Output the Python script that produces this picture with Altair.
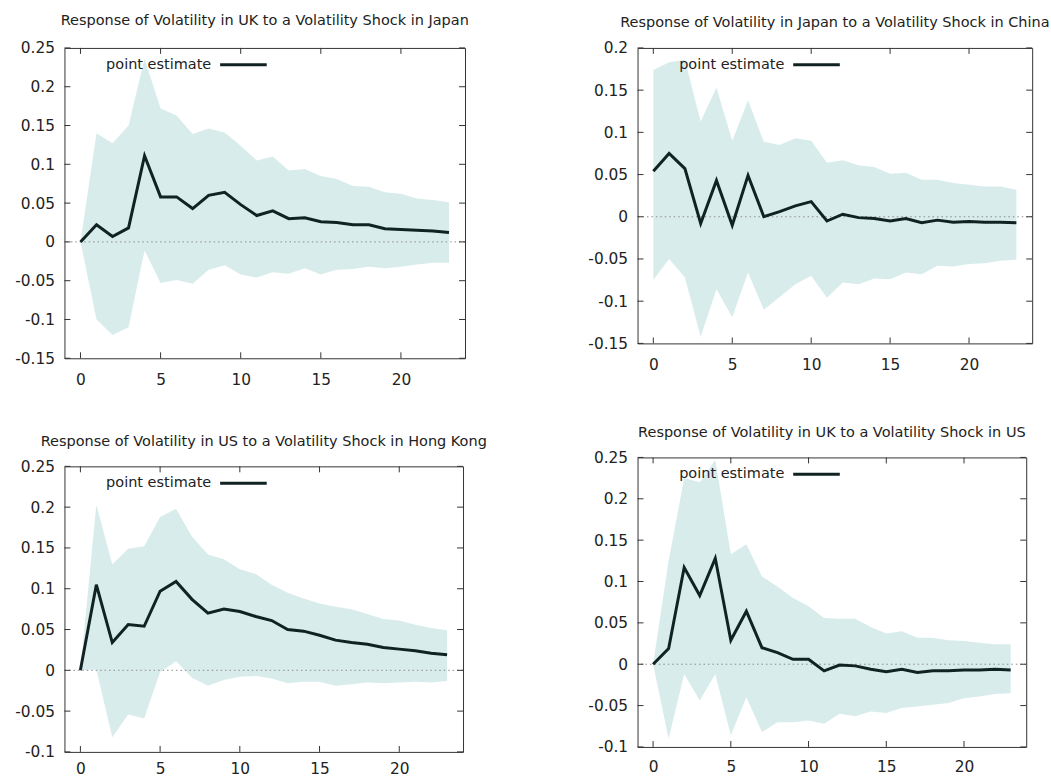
import altair as alt
import pandas as pd

# ---------------- data ----------------
HORIZON = list(range(24))
X_TICKS = [0, 5, 10, 15, 20]
LEGEND_LABEL = "point estimate"

TITLE_1 = "Response of Volatility in UK to a Volatility Shock in Japan"
EST_1 = [0, 0.022, 0.007, 0.018, 0.111, 0.058, 0.058, 0.043, 0.060, 0.064, 0.048, 0.034,
         0.040, 0.030, 0.031, 0.026, 0.025, 0.022, 0.022, 0.017, 0.016, 0.015, 0.014, 0.012]
HI_1 = [0, 0.140, 0.127, 0.150, 0.236, 0.172, 0.163, 0.139, 0.146, 0.141, 0.124, 0.105,
        0.110, 0.092, 0.094, 0.085, 0.081, 0.072, 0.071, 0.064, 0.062, 0.056, 0.054, 0.051]
LO_1 = [0, -0.100, -0.120, -0.110, -0.011, -0.053, -0.049, -0.054, -0.036, -0.030, -0.042, -0.046,
        -0.039, -0.041, -0.034, -0.042, -0.036, -0.035, -0.032, -0.034, -0.032, -0.029, -0.027, -0.027]
YDOM_1 = [-0.15, 0.25]
YTICKS_1 = [-0.15, -0.1, -0.05, 0, 0.05, 0.1, 0.15, 0.2, 0.25]

TITLE_2 = "Response of Volatility in Japan to a Volatility Shock in China"
EST_2 = [0.054, 0.075, 0.057, -0.008, 0.043, -0.010, 0.049, 0.000, 0.006, 0.013, 0.018, -0.005,
         0.003, -0.001, -0.002, -0.005, -0.002, -0.007, -0.004, -0.0065, -0.0056, -0.0065, -0.0065, -0.0072]
HI_2 = [0.174, 0.183, 0.186, 0.113, 0.153, 0.090, 0.138, 0.089, 0.085, 0.093, 0.090, 0.064,
        0.067, 0.061, 0.059, 0.051, 0.052, 0.044, 0.044, 0.040, 0.038, 0.036, 0.036, 0.032]
LO_2 = [-0.075, -0.050, -0.072, -0.142, -0.086, -0.119, -0.066, -0.110, -0.095, -0.080, -0.070, -0.096,
        -0.078, -0.080, -0.073, -0.074, -0.066, -0.068, -0.058, -0.059, -0.056, -0.055, -0.052, -0.051]
YDOM_2 = [-0.15, 0.2]
YTICKS_2 = [-0.15, -0.1, -0.05, 0, 0.05, 0.1, 0.15, 0.2]

TITLE_3 = "Response of Volatility in US to a Volatility Shock in Hong Kong"
EST_3 = [0, 0.105, 0.034, 0.056, 0.054, 0.097, 0.109, 0.087, 0.070, 0.075, 0.072, 0.066,
         0.061, 0.050, 0.048, 0.043, 0.037, 0.034, 0.032, 0.028, 0.026, 0.024, 0.021, 0.019]
HI_3 = [0, 0.203, 0.130, 0.149, 0.152, 0.188, 0.198, 0.164, 0.142, 0.136, 0.124, 0.118,
        0.105, 0.095, 0.088, 0.082, 0.078, 0.075, 0.069, 0.063, 0.061, 0.056, 0.052, 0.049]
LO_3 = [0, 0.001, -0.082, -0.054, -0.059, -0.002, 0.011, -0.009, -0.019, -0.012, -0.008, -0.007,
        -0.010, -0.016, -0.014, -0.014, -0.019, -0.017, -0.015, -0.016, -0.015, -0.014, -0.015, -0.013]
YDOM_3 = [-0.1, 0.25]
YTICKS_3 = [-0.1, -0.05, 0, 0.05, 0.1, 0.15, 0.2, 0.25]

TITLE_4 = "Response of Volatility in UK to a Volatility Shock in US"
EST_4 = [0, 0.019, 0.117, 0.083, 0.128, 0.029, 0.064, 0.020, 0.014, 0.006, 0.006, -0.008,
         -0.001, -0.002, -0.006, -0.009, -0.006, -0.010, -0.008, -0.008, -0.007, -0.007, -0.006, -0.007]
HI_4 = [0, 0.125, 0.225, 0.220, 0.247, 0.133, 0.145, 0.106, 0.094, 0.080, 0.070, 0.056,
        0.055, 0.055, 0.045, 0.037, 0.040, 0.032, 0.032, 0.029, 0.028, 0.026, 0.024, 0.024]
LO_4 = [0, -0.090, -0.012, -0.044, -0.012, -0.086, -0.040, -0.082, -0.070, -0.070, -0.068, -0.072,
        -0.060, -0.063, -0.057, -0.059, -0.053, -0.051, -0.049, -0.047, -0.041, -0.039, -0.036, -0.035]
YDOM_4 = [-0.1, 0.25]
YTICKS_4 = [-0.1, -0.05, 0, 0.05, 0.1, 0.15, 0.2, 0.25]

# ---------------- style ----------------
FONT = "DejaVu Sans"
BAND = "#d9ecec"
LINE = "#112222"
FRAME = "#333333"
TEXT = "#222222"
TL = 6  # inward tick length
LABEL_SIZE = 15.5


def panel(title, est, lo, hi, ydom, yticks, w, h, xpad, toff):
    df = pd.DataFrame({"h": HORIZON, "est": est, "lo": lo, "hi": hi})
    xs = alt.Scale(domain=[-1, 24], nice=False, zero=False)
    ys = alt.Scale(domain=ydom, nice=False, zero=False)
    xax = alt.Axis(values=X_TICKS, ticks=False, tickSize=0, domain=False, grid=False,
                   labelFont=FONT, labelFontSize=LABEL_SIZE, labelColor=TEXT, labelPadding=xpad,
                   title=None)
    yax = alt.Axis(values=yticks, ticks=False, tickSize=0, domain=False, grid=False,
                   labelFont=FONT, labelFontSize=LABEL_SIZE, labelColor=TEXT, labelPadding=10,
                   labelExpr="'' + datum.value", title=None)
    band = alt.Chart(df).mark_area(color=BAND, opacity=1).encode(
        x=alt.X("h:Q", scale=xs, axis=xax),
        y=alt.Y("lo:Q", scale=ys, axis=yax),
        y2="hi:Q",
    )
    zero = alt.Chart(pd.DataFrame({"v": [0]})).mark_rule(
        color="#8a8a8a", strokeWidth=1, strokeDash=[1.5, 3]
    ).encode(y=alt.Y("v:Q", axis=yax))
    line = alt.Chart(df).mark_line(color=LINE, strokeWidth=3, strokeJoin="miter").encode(
        x=alt.X("h:Q", axis=xax), y=alt.Y("est:Q", axis=yax)
    )
    xt = pd.DataFrame({"t": X_TICKS})
    yt = pd.DataFrame({"t": yticks})
    tick_b = alt.Chart(xt).mark_rule(color=FRAME).encode(
        x=alt.X("t:Q", axis=xax), y=alt.value(h), y2=alt.value(h - TL))
    tick_t = alt.Chart(xt).mark_rule(color=FRAME).encode(
        x=alt.X("t:Q", axis=xax), y=alt.value(0), y2=alt.value(TL))
    tick_l = alt.Chart(yt).mark_rule(color=FRAME).encode(
        y=alt.Y("t:Q", axis=yax), x=alt.value(0), x2=alt.value(TL))
    tick_r = alt.Chart(yt).mark_rule(color=FRAME).encode(
        y=alt.Y("t:Q", axis=yax), x=alt.value(w - TL), x2=alt.value(w))
    leg = pd.DataFrame({"label": [LEGEND_LABEL]})
    leg_text = alt.Chart(leg).mark_text(
        align="left", baseline="middle", font=FONT, fontSize=14.6, color=TEXT
    ).encode(x=alt.value(42), y=alt.value(17), text="label:N")
    leg_line = alt.Chart(leg).mark_rule(color=LINE, strokeWidth=3).encode(
        x=alt.value(157), x2=alt.value(204), y=alt.value(17))
    return alt.layer(band, zero, line, tick_b, tick_t, tick_l, tick_r, leg_text, leg_line).properties(
        width=w, height=h,
        title=alt.TitleParams(title, font=FONT, fontSize=14.6, fontWeight="normal", color=TEXT,
                              anchor="middle", frame="group", offset=toff),
    )


p1 = panel(TITLE_1, EST_1, LO_1, HI_1, YDOM_1, YTICKS_1, 404, 313, 14, 14)
p2 = panel(TITLE_2, EST_2, LO_2, HI_2, YDOM_2, YTICKS_2, 398, 298, 14, 12)
p3 = panel(TITLE_3, EST_3, LO_3, HI_3, YDOM_3, YTICKS_3, 402, 288, 10, 11)
p4 = panel(TITLE_4, EST_4, LO_4, HI_4, YDOM_4, YTICKS_4, 392, 292, 13, 11)

left = alt.vconcat(p1, p3, spacing=45)
right = alt.vconcat(p2, p4, spacing=51)

chart = alt.hconcat(left, right, spacing=100).properties(
    padding={"left": 14, "top": 8, "right": 0, "bottom": 0},
    background="white",
).configure_view(stroke=FRAME, strokeWidth=1)

chart.save("out.html", embed_options={"renderer": "svg", "actions": False})
